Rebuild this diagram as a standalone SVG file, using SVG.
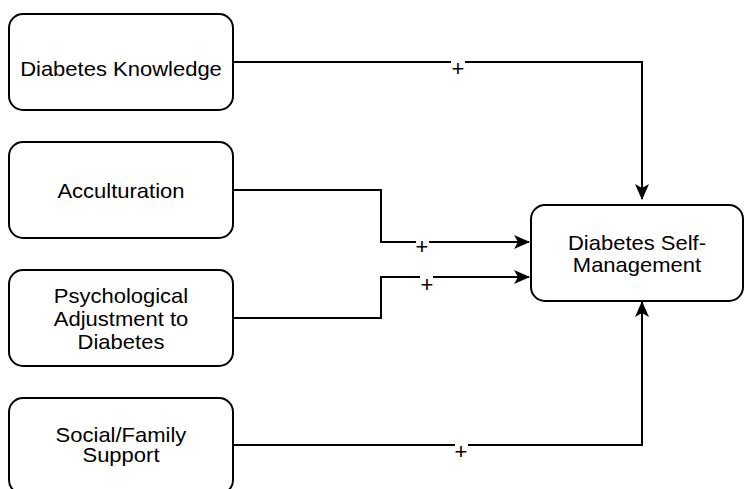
<svg xmlns="http://www.w3.org/2000/svg" width="744" height="489" viewBox="0 0 744 489">
<defs>
<style>
.box{fill:#fff;stroke:#000;stroke-width:2}
.t{font-family:"Liberation Sans",Arial,Helvetica,sans-serif;font-size:20px;fill:#000;text-anchor:middle}
.e{fill:none;stroke:#000;stroke-width:2}
.l{font-family:"Liberation Sans",Arial,Helvetica,sans-serif;font-size:22px;fill:#000;text-anchor:middle}
</style>
<marker id="ah" viewBox="0 0 16 14" refX="15" refY="7" markerWidth="16" markerHeight="14" markerUnits="userSpaceOnUse" orient="auto">
<path d="M0,0 L16,7 L0,14 L4,7 Z" fill="#000"/>
</marker>
</defs>
<rect width="744" height="489" fill="#fff"/>
<g id="connectors">
<path class="e" d="M233,62 H642 V199" marker-end="url(#ah)"/>
<path class="e" d="M233,190 H381 V242 H529" marker-end="url(#ah)"/>
<path class="e" d="M233,318 H381 V277 H529" marker-end="url(#ah)"/>
<path class="e" d="M233,445 H642 V302" marker-end="url(#ah)"/>
<rect x="451" y="54" width="14" height="14" fill="#fff"/>
<text class="l" x="458" y="76">+</text>
<rect x="416" y="234" width="13" height="14" fill="#fff"/>
<text class="l" x="422" y="254">+</text>
<rect x="420" y="269" width="13" height="14" fill="#fff"/>
<text class="l" x="427" y="292">+</text>
<rect x="455" y="437" width="13" height="14" fill="#fff"/>
<text class="l" x="461" y="459">+</text>
</g>
<g id="n1">
<rect class="box" x="9" y="14" width="224" height="96" rx="14"/>
<g transform="matrix(1.1,0,0,1,-12.1,0)">
<text class="t" x="121" y="76">Diabetes Knowledge</text>
</g>
</g>
<g id="n2">
<rect class="box" x="9" y="142" width="224" height="96" rx="14"/>
<g transform="matrix(1.1,0,0,1,-12.1,0)">
<text class="t" x="121" y="198">Acculturation</text>
</g>
</g>
<g id="n3">
<rect class="box" x="9" y="270" width="224" height="96" rx="14"/>
<g transform="matrix(1.1,0,0,1,-12.1,0)">
<text class="t" x="121" y="303">Psychological</text>
<text class="t" x="121" y="326">Adjustment to</text>
<text class="t" x="121" y="349">Diabetes</text>
</g>
</g>
<g id="n4">
<rect class="box" x="9" y="398" width="224" height="96" rx="14"/>
<g transform="matrix(1.1,0,0,1,-12.1,0)">
<text class="t" x="121" y="442">Social/Family</text>
<text class="t" x="121" y="462">Support</text>
</g>
</g>
<g id="n5">
<rect class="box" x="531" y="205" width="212" height="96" rx="14"/>
<g transform="matrix(1.1,0,0,1,-63.7,0)">
<text class="t" x="637" y="250">Diabetes Self-</text>
<text class="t" x="637" y="272">Management</text>
</g>
</g>
</svg>
